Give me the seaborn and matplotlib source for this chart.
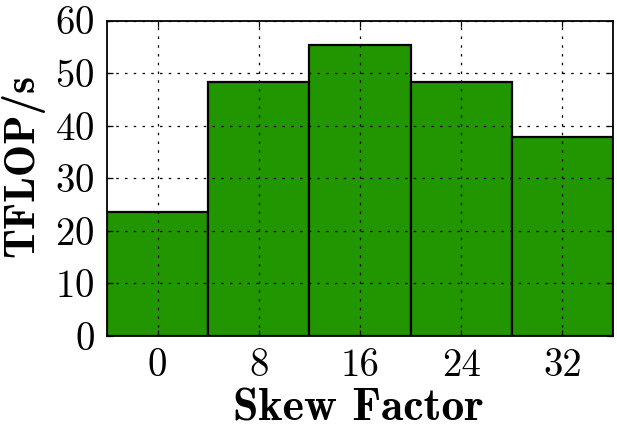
import pandas as pd
import seaborn as sns
import matplotlib.pyplot as plt

# data
skew = ["0", "8", "16", "24", "32"]
tflops = [23.6, 48.3, 55.3, 48.3, 37.9]
yticks = [0, 10, 20, 30, 40, 50, 60]

sns.set_style("ticks")
plt.rcParams['font.family'] = ['cmr10', 'DejaVu Serif']
plt.rcParams['axes.formatter.use_mathtext'] = True
plt.rcParams['text.color'] = 'black'
plt.rcParams['axes.labelcolor'] = 'black'

df = pd.DataFrame({'skew': skew, 'tflops': tflops})

fig = plt.figure(figsize=(6.17, 4.29), dpi=100)
ax = fig.add_axes([0.1734, 0.2168, 0.8201, 0.7354])

sns.barplot(x='skew', y='tflops', data=df, color='#229600', saturation=1,
            width=1.0, edgecolor='black', linewidth=1.6, ax=ax, zorder=1)

ax.set_ylim(0, 60)
ax.set_xlim(-0.5, 4.5)
ax.set_yticks(yticks)
ax.grid(True, color='black', linestyle=(0, (2, 5)), linewidth=0.9, zorder=3)
ax.set_axisbelow(False)
for sp in ax.spines.values():
    sp.set_linewidth(1.3)
    sp.set_color('black')
    sp.set_zorder(4)
ax.tick_params(direction='in', length=4, width=0.9, top=True, right=True,
               labelsize=28, colors='black', pad=9)

ax.set_xlabel('Skew Factor', fontsize=33, fontfamily='cmb10', color='black')
ax.set_ylabel('TFLOP/s', fontsize=31, fontfamily='cmb10', color='black')
ax.xaxis.set_label_coords(0.497, -0.168)
ax.yaxis.set_label_coords(-0.124, 0.54)

fig.savefig('out.png', dpi=100)
